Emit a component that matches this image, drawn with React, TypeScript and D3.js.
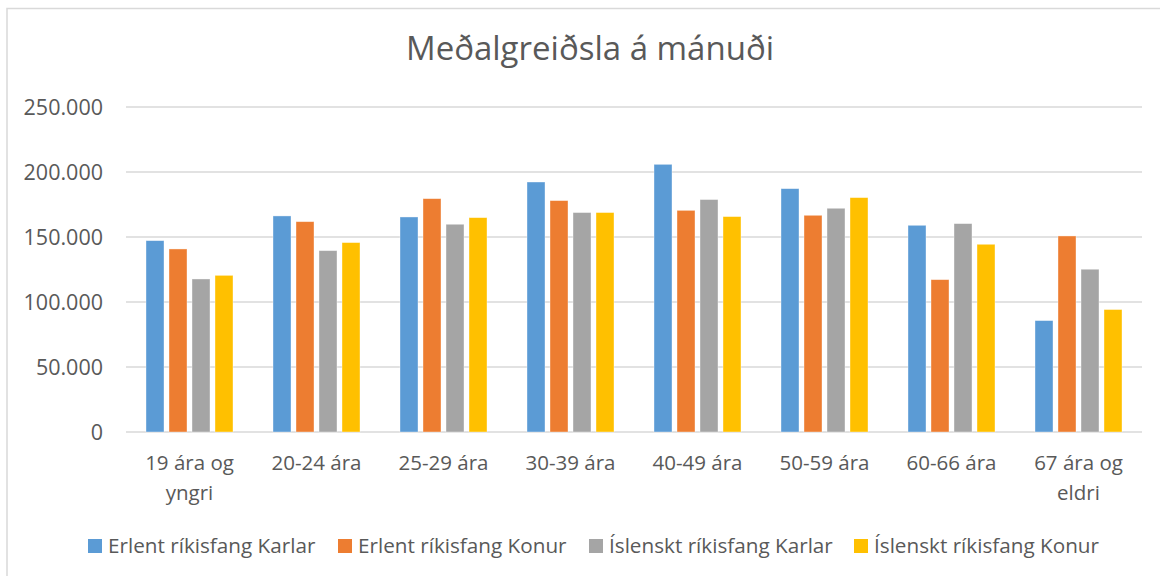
import React from "react";
import { scaleBand, scaleLinear, scaleOrdinal, format } from "d3";

const width = 1160;
const height = 576;

const title = "Meðalgreiðsla á mánuði";
const categories = [
  "19 ára og yngri",
  "20-24 ára",
  "25-29 ára",
  "30-39 ára",
  "40-49 ára",
  "50-59 ára",
  "60-66 ára",
  "67 ára og eldri",
];
const seriesNames = [
  "Erlent ríkisfang Karlar",
  "Erlent ríkisfang Konur",
  "Íslenskt ríkisfang Karlar",
  "Íslenskt ríkisfang Konur",
];
const seriesColors = ["#5b9bd5", "#ed7d31", "#a5a5a5", "#ffc000"];

const erlentKarlar = [147200, 166200, 165400, 192300, 205900, 187200, 159000, 85700];
const erlentKonur = [140800, 161800, 179500, 178000, 170500, 166700, 117200, 150800];
const islensktKarlar = [117700, 139500, 159800, 168800, 178800, 172100, 160300, 125200];
const islensktKonur = [120500, 145700, 164900, 168800, 165700, 180300, 144400, 94200];
const seriesValues = [erlentKarlar, erlentKonur, islensktKarlar, islensktKonur];

const yTicks = [0, 50000, 100000, 150000, 200000, 250000];

const margin = { left: 126, right: 18, top: 107, bottom: 144 };
const fontFamily = "'Open Sans', sans-serif";
const textColor = "#595959";

const x0 = scaleBand()
  .domain(categories)
  .range([margin.left, width - margin.right])
  .padding(0);
const x1 = scaleBand()
  .domain(seriesNames)
  .range([x0.bandwidth() / 2 - 43.5, x0.bandwidth() / 2 + 43.5])
  .paddingInner(5 / 23);
const y = scaleLinear()
  .domain([0, 250000])
  .range([height - margin.bottom, margin.top]);
const color = scaleOrdinal<string, string>().domain(seriesNames).range(seriesColors);

// Icelandic thousands separator is a dot
const fmt = (v: number) => format(",")(v).replace(/,/g, ".");

// break long category labels after "og"
const wrapLabel = (label: string) => {
  const i = label.indexOf(" og ");
  if (i < 0) return [label];
  return [label.slice(0, i + 3), label.slice(i + 4)];
};

const legendX = [88, 338, 589, 854];

export default function App() {
  return (
    <div style={{ position: "fixed", left: 0, top: 0 }}>
      <svg width={width} height={height} style={{ display: "block", background: "#fff" }}>
        <rect x={7} y={8.5} width={width + 20} height={height + 20} fill="#fff" stroke="#d9d9d9" strokeWidth={1.5} />
        <text
          x={590}
          y={60}
          textAnchor="middle"
          fontFamily={fontFamily}
          fontSize={33}
          fill={textColor}
        >
          {title}
        </text>

        {yTicks.map((t) => (
          <g key={`tick${t}`}>
            <line
              x1={margin.left}
              x2={width - margin.right}
              y1={y(t)}
              y2={y(t)}
              stroke="#d9d9d9"
              strokeWidth={1.3}
            />
            <text
              x={103}
              y={y(t)}
              dy="0.35em"
              textAnchor="end"
              fontFamily={fontFamily}
              fontSize={21.5}
              fill={textColor}
            >
              {fmt(t)}
            </text>
          </g>
        ))}

        {categories.map((cat, ci) => (
          <g key={`grp${ci}`} transform={`translate(${x0(cat)},0)`}>
            {seriesNames.map((s, si) => {
              const v = seriesValues[si][ci];
              return (
                <rect
                  key={`bar${si}`}
                  x={x1(s)}
                  y={y(v)}
                  width={x1.bandwidth()}
                  height={y(0) - y(v)}
                  fill={color(s)}
                  stroke="#fff"
                  strokeOpacity={0.5}
                  strokeWidth={0.75}
                />
              );
            })}
            <text
              x={x0.bandwidth() / 2}
              y={470}
              textAnchor="middle"
              fontFamily={fontFamily}
              fontSize={20.5}
              fill={textColor}
            >
              {wrapLabel(cat).map((line, li) => (
                <tspan key={li} x={x0.bandwidth() / 2} dy={li === 0 ? 0 : 30}>
                  {line}
                </tspan>
              ))}
            </text>
          </g>
        ))}

        {seriesNames.map((s, si) => (
          <g key={`leg${si}`} transform={`translate(${legendX[si]},539)`}>
            <rect width={14} height={14} fill={color(s)} />
            <text
              x={20}
              y={7}
              dy="0.35em"
              fontFamily={fontFamily}
              fontSize={20.7}
              fill={textColor}
            >
              {s}
            </text>
          </g>
        ))}
      </svg>
    </div>
  );
}
